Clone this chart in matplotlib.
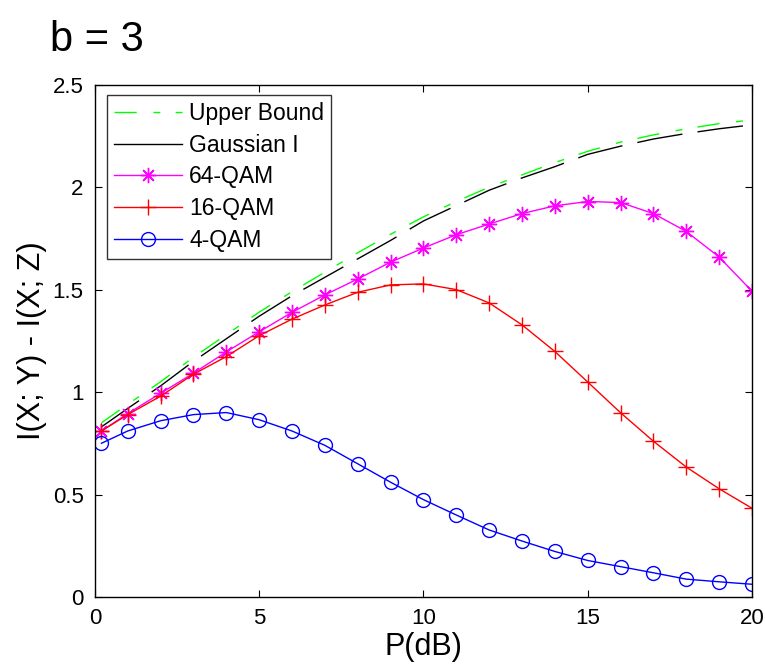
import numpy as np
import matplotlib
matplotlib.use("Agg")
import matplotlib.pyplot as plt
from matplotlib.lines import Line2D

plt.rcParams['font.family'] = ['Liberation Sans', 'DejaVu Sans']
plt.rcParams['lines.scale_dashes'] = False

P = [0.2, 1, 2, 3, 4, 5, 6, 7, 8, 9, 10, 11, 12, 13, 14, 15, 16, 17, 18, 19, 20]

upper = [0.85, 0.94, 1.05, 1.17, 1.28, 1.39, 1.49, 1.585, 1.68, 1.77, 1.855,
         1.93, 2.0, 2.06, 2.12, 2.175, 2.22, 2.255, 2.285, 2.31, 2.328]
gauss = [0.83, 0.92, 1.03, 1.15, 1.26, 1.37, 1.47, 1.56, 1.65, 1.74, 1.835,
         1.91, 1.985, 2.045, 2.10, 2.16, 2.20, 2.235, 2.262, 2.285, 2.304]
qam64 = [0.81, 0.895, 0.994, 1.092, 1.196, 1.294, 1.389, 1.474, 1.552, 1.634, 1.703,
         1.768, 1.82, 1.871, 1.909, 1.93, 1.925, 1.871, 1.784, 1.659, 1.492]
qam16 = [0.81, 0.89, 0.98, 1.087, 1.173, 1.275, 1.356, 1.425, 1.487, 1.523, 1.528,
         1.50, 1.435, 1.328, 1.198, 1.049, 0.899, 0.76, 0.634, 0.528, 0.433]
qam4 = [0.75, 0.81, 0.86, 0.89, 0.90, 0.865, 0.81, 0.74, 0.65, 0.56, 0.475,
        0.40, 0.327, 0.273, 0.222, 0.178, 0.148, 0.118, 0.087, 0.074, 0.062]

green = (0, 1, 0)
magenta = (1, 0, 1)
red = (1, 0, 0)
blue = (0, 0, 1)
star = (8, 2, 0)

fig = plt.figure(figsize=(7.65, 6.67), dpi=100)
ax = fig.add_axes([0.124, 0.105, 0.859, 0.768])

ax.plot(P, gauss, color='k', lw=1, dashes=(33, 11))
ax.plot(P, upper, color=green, lw=1, dashes=(16, 12, 5, 11))
ax.plot(P, qam64, color=magenta, lw=1, marker=star, ms=11, mew=1)
ax.plot(P, qam16, color=red, lw=1, marker='+', ms=12, mew=1)
ax.plot(P, qam4, color=blue, lw=1, marker='o', ms=10, mfc='none', mew=1)

handles = [
    Line2D([], [], color=green, lw=1, dashes=(16, 12, 5, 11)),
    Line2D([], [], color='k', lw=1),
    Line2D([], [], color=magenta, lw=1, marker=star, ms=11),
    Line2D([], [], color=red, lw=1, marker='+', ms=12),
    Line2D([], [], color=blue, lw=1, marker='o', ms=10, mfc='none'),
]
labels = ['Upper Bound', 'Gaussian I', '64-QAM', '16-QAM', '4-QAM']
leg = ax.legend(handles, labels, loc='upper left', bbox_to_anchor=(0.018, 0.98),
                fontsize=16.5, frameon=True, fancybox=False, handlelength=3.0,
                handletextpad=0.3, labelspacing=0.38, borderpad=0.3, borderaxespad=0)
leg.get_frame().set_edgecolor('k')
leg.get_frame().set_linewidth(1)

ax.set_xlim(0, 20)
ax.set_ylim(0, 2.5)
ax.set_xticks([0, 5, 10, 15, 20])
ax.set_yticks([0, 0.5, 1, 1.5, 2, 2.5])
ax.set_yticklabels(['0', '0.5', '1', '1.5', '2', '2.5'])
ax.tick_params(direction='in', length=5, labelsize=16, top=True, right=True, pad=8)
for s in ax.spines.values():
    s.set_linewidth(1)

ax.set_xlabel('P(dB)', fontsize=22, labelpad=2)
ax.set_ylabel('I(X; Y) - I(X; Z)', fontsize=22, labelpad=4)
fig.text(0.065, 0.94, 'b = 3', fontsize=30, ha='left', va='center')

fig.savefig('out.png', dpi=100)
